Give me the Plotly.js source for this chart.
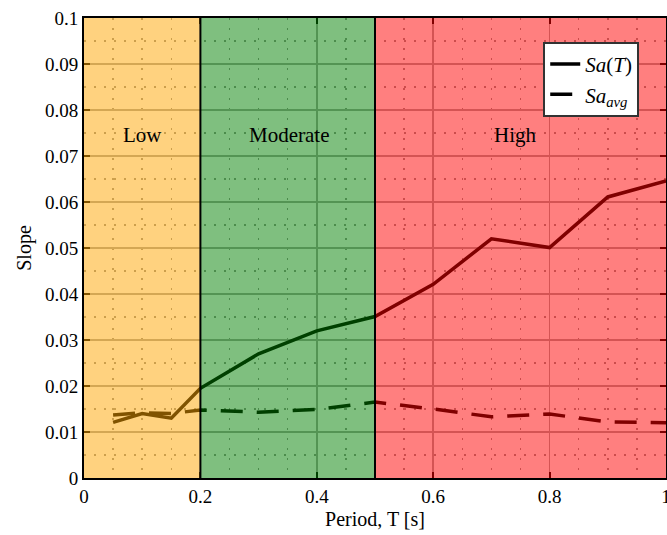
<!DOCTYPE html>
<html><head><meta charset="utf-8">
<script src="https://cdn.plot.ly/plotly-3.0.1.min.js"></script>
<style>html,body{margin:0;padding:0;background:#fff}#chart{width:667px;height:535px}</style>
</head><body><div id="chart"></div>
<script>
const periods = [0.05, 0.1, 0.15, 0.2, 0.3, 0.4, 0.5, 0.6, 0.7, 0.8, 0.9, 1.0];
const saT     = [0.0121, 0.0140, 0.0130, 0.0195, 0.0270, 0.0320, 0.0351, 0.0421, 0.0520, 0.0501, 0.0611, 0.0646];
const saAvg   = [0.0137, 0.0142, 0.0140, 0.0148, 0.0143, 0.0149, 0.0165, 0.0150, 0.0133, 0.0139, 0.0122, 0.0120];
const zoneNames = ["Low", "Moderate", "High"];
const zoneBounds = [0, 0.2, 0.5, 1.0];
const zoneColors = ["rgba(255,165,0,0.5)", "rgba(0,128,0,0.5)", "rgba(255,0,0,0.5)"];
const zoneLabelX = [0.1, 0.352, 0.742];
const zoneLabelY = 0.0746;
const xTickVals = [0, 0.2, 0.4, 0.6, 0.8, 1];
const xTickText = ["0", "0.2", "0.4", "0.6", "0.8", "1"];

const font = "Times New Roman, Liberation Serif, DejaVu Serif, serif";
const traces = [
  {x: periods, y: saT, mode: "lines", name: "<i>Sa</i>(<i>T</i>)",
   line: {color: "#000", width: 3.5}},
  {x: periods, y: saAvg, mode: "lines", name: "<i>Sa<sub>avg</sub></i>",
   line: {color: "#000", width: 3.5, dash: "22px,14px"}}
];
const shapes = [];
for (let i = 0; i < 3; i++) {
  shapes.push({type: "rect", xref: "x", yref: "paper", x0: zoneBounds[i], x1: zoneBounds[i+1], y0: 0, y1: 1,
    fillcolor: zoneColors[i], line: {width: 0}, layer: "above"});
}
[zoneBounds[1], zoneBounds[2]].forEach(v => shapes.push({type: "line", xref: "x", yref: "paper", x0: v, x1: v, y0: 0, y1: 1,
  line: {color: "#000", width: 2}, layer: "above"}));
const annotations = zoneNames.map((n, i) => ({x: zoneLabelX[i], y: zoneLabelY, xref: "x", yref: "y", text: n,
  showarrow: false, font: {family: font, size: 21, color: "#000"}}));

const axisCommon = {
  showline: true, linecolor: "#000", linewidth: 2, mirror: "ticks",
  ticks: "inside", ticklen: 6, tickwidth: 2, tickcolor: "#000",
  showgrid: true, gridcolor: "#a8a8a8", gridwidth: 1.5, zeroline: false,
  ticklabeloverflow: "allow",
  tickfont: {family: font, size: 19, color: "#000"}
};
const layout = {
  width: 667, height: 535,
  margin: {l: 84, r: 1, t: 18, b: 57},
  paper_bgcolor: "#fff", plot_bgcolor: "#fff",
  font: {family: font},
  showlegend: true,
  legend: {x: 0.954, xanchor: "right", y: 0.948, yanchor: "top", bgcolor: "#fff",
    bordercolor: "#333", borderwidth: 2, font: {family: font, size: 21, color: "#000"}},
  xaxis: Object.assign({}, axisCommon, {range: [0, 1], tickmode: "array", tickvals: xTickVals, ticktext: xTickText,
    minor: {dtick: 0.05, tickmode: "linear", tick0: 0, showgrid: true, gridcolor: "#999", griddash: "2px,8px", gridwidth: 1.5},
    title: {text: "Period, T [s]", font: {family: font, size: 20, color: "#000"}, standoff: 6}}),
  yaxis: Object.assign({}, axisCommon, {range: [0, 0.1], dtick: 0.01, tickformat: "~g",
    minor: {dtick: 0.005, showgrid: true, gridcolor: "#999", griddash: "2px,8px", gridwidth: 1.5},
    title: {text: "Slope", font: {family: font, size: 20, color: "#000"}, standoff: 8}}),
  shapes: shapes, annotations: annotations
};
Plotly.newPlot("chart", traces, layout, {displayModeBar: false, staticPlot: true});
</script></body></html>
